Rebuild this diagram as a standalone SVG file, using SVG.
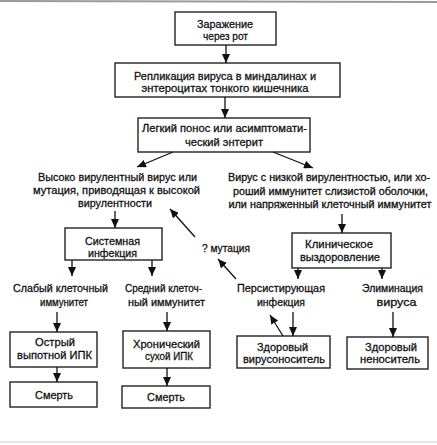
<svg xmlns="http://www.w3.org/2000/svg" width="437" height="445" viewBox="0 0 437 445">
<defs>
<marker id="ah" markerUnits="userSpaceOnUse" markerWidth="10" markerHeight="8" refX="9" refY="4" orient="auto">
<path d="M0,0 L9,4 L0,8 Z" fill="#111"/>
</marker>
<style>
.box{fill:#fff;stroke:#222;stroke-width:1.4}
.t{font-family:"Liberation Sans",Arial,sans-serif;font-size:11.5px;fill:#111;stroke:#111;stroke-width:0.3;text-anchor:middle}
.s{font-size:10.4px}
.c line{stroke:#111;stroke-width:1.3;marker-end:url(#ah)}
</style>
</defs>
<rect width="437" height="445" fill="#fff"/>
<line x1="0" y1="1" x2="437" y2="2" stroke="#999" stroke-width="2"/>
<line x1="0" y1="442" x2="437" y2="442" stroke="#ccc" stroke-width="1"/>

<g id="n1"><rect class="box" x="175" y="12" width="101" height="33"/>
<text class="t" x="225" y="28" textLength="56" lengthAdjust="spacingAndGlyphs">Заражение</text><text class="t" x="225.5" y="40" textLength="45" lengthAdjust="spacingAndGlyphs">через рот</text></g>

<g id="n2"><rect class="box" x="115" y="63" width="225" height="34"/>
<text class="t" x="225" y="80" textLength="182" lengthAdjust="spacingAndGlyphs">Репликация вируса в миндалинах и</text><text class="t" x="225" y="92" textLength="167" lengthAdjust="spacingAndGlyphs">энтероцитах тонкого кишечника</text></g>

<g id="n3"><rect class="box" x="138" y="118" width="172" height="34"/>
<text class="t" x="224.5" y="132" textLength="165" lengthAdjust="spacingAndGlyphs">Легкий понос или асимптомати-</text><text class="t" x="224" y="146" textLength="78" lengthAdjust="spacingAndGlyphs">ческий энтерит</text></g>

<g id="n4"><text class="t" x="117.5" y="181" textLength="159" lengthAdjust="spacingAndGlyphs">Высоко вирулентный вирус или</text><text class="t" x="116.5" y="194" textLength="167" lengthAdjust="spacingAndGlyphs">мутация, приводящая к высокой</text><text class="t" x="115" y="207" textLength="74" lengthAdjust="spacingAndGlyphs">вирулентности</text></g>

<g id="n5"><text class="t s" x="329" y="181" textLength="202" lengthAdjust="spacingAndGlyphs">Вирус с низкой вирулентностью, или хо-</text><text class="t s" x="330.5" y="195" textLength="195" lengthAdjust="spacingAndGlyphs">роший иммунитет слизистой оболочки,</text><text class="t s" x="330" y="208" textLength="203" lengthAdjust="spacingAndGlyphs">или напряженный клеточный иммунитет</text></g>

<g id="n6"><rect class="box" x="65" y="228" width="97" height="32"/>
<text class="t" x="112.5" y="245" textLength="55" lengthAdjust="spacingAndGlyphs">Системная</text><text class="t" x="112.5" y="257" textLength="49" lengthAdjust="spacingAndGlyphs">инфекция</text></g>

<g id="n7"><rect class="box" x="292" y="233" width="99" height="35"/>
<text class="t" x="339" y="248" textLength="68" lengthAdjust="spacingAndGlyphs">Клиническое</text><text class="t" x="340" y="261" textLength="80" lengthAdjust="spacingAndGlyphs">выздоровление</text></g>

<g id="n8"><text class="t" x="226" y="252" textLength="48" lengthAdjust="spacingAndGlyphs">? мутация</text></g>

<g id="n9"><text class="t" x="60.5" y="292" textLength="95" lengthAdjust="spacingAndGlyphs">Слабый клеточный</text><text class="t" x="64" y="306" textLength="48" lengthAdjust="spacingAndGlyphs">иммунитет</text></g>
<g id="n10"><text class="t" x="163.5" y="292" textLength="77" lengthAdjust="spacingAndGlyphs">Средний клеточ-</text><text class="t" x="166.5" y="306" textLength="77" lengthAdjust="spacingAndGlyphs">ный иммунитет</text></g>
<g id="n11"><text class="t" x="281" y="292" textLength="88" lengthAdjust="spacingAndGlyphs">Персистирующая</text><text class="t" x="281" y="306" textLength="48" lengthAdjust="spacingAndGlyphs">инфекция</text></g>
<g id="n12"><text class="t" x="392.5" y="292" textLength="61" lengthAdjust="spacingAndGlyphs">Элиминация</text><text class="t" x="396.5" y="306" textLength="40" lengthAdjust="spacingAndGlyphs">вируса</text></g>

<g id="n13"><rect class="box" x="10" y="332" width="87" height="35"/>
<text class="t" x="55" y="346" textLength="40" lengthAdjust="spacingAndGlyphs">Острый</text><text class="t" x="54.5" y="359" textLength="75" lengthAdjust="spacingAndGlyphs">выпотной ИПК</text></g>
<g id="n14"><rect class="box" x="123" y="331" width="87" height="37"/>
<text class="t" x="166.5" y="348" textLength="67" lengthAdjust="spacingAndGlyphs">Хронический</text><text class="t" x="169" y="360" textLength="48" lengthAdjust="spacingAndGlyphs">сухой ИПК</text></g>
<g id="n15"><rect class="box" x="237" y="336" width="93" height="32"/>
<text class="t" x="282.5" y="351" textLength="51" lengthAdjust="spacingAndGlyphs">Здоровый</text><text class="t" x="284" y="363" textLength="82" lengthAdjust="spacingAndGlyphs">вирусоноситель</text></g>
<g id="n16"><rect class="box" x="347" y="337" width="81" height="32"/>
<text class="t" x="391" y="351" textLength="52" lengthAdjust="spacingAndGlyphs">Здоровый</text><text class="t" x="390" y="363" textLength="60" lengthAdjust="spacingAndGlyphs">неноситель</text></g>

<g id="n17"><rect class="box" x="10" y="382" width="87" height="25"/>
<text class="t" x="54" y="399" textLength="38" lengthAdjust="spacingAndGlyphs">Смерть</text></g>
<g id="n18"><rect class="box" x="122" y="386" width="88" height="22"/>
<text class="t" x="166" y="401" textLength="38" lengthAdjust="spacingAndGlyphs">Смерть</text></g>

<g id="connectors" class="c">
<line x1="226" y1="45" x2="226" y2="63"/>
<line x1="225" y1="97" x2="225" y2="118"/>
<line x1="173" y1="152" x2="137" y2="167"/>
<line x1="273" y1="152" x2="313" y2="168"/>
<line x1="115" y1="211" x2="115" y2="228"/>
<line x1="342" y1="214" x2="342" y2="233"/>
<line x1="195" y1="237" x2="170" y2="209"/>
<line x1="236" y1="279" x2="218" y2="259"/>
<line x1="72" y1="260" x2="72" y2="276"/>
<line x1="152" y1="260" x2="152" y2="276"/>
<line x1="298" y1="268" x2="298" y2="279"/>
<line x1="382" y1="268" x2="382" y2="279"/>
<line x1="57" y1="312" x2="57" y2="332"/>
<line x1="167" y1="312" x2="167" y2="331"/>
<line x1="293" y1="312" x2="293" y2="336"/>
<line x1="393" y1="312" x2="393" y2="337"/>
<line x1="283" y1="336" x2="270" y2="315"/>
<line x1="57" y1="367" x2="57" y2="382"/>
<line x1="167" y1="368" x2="167" y2="386"/>
</g>
</svg>
